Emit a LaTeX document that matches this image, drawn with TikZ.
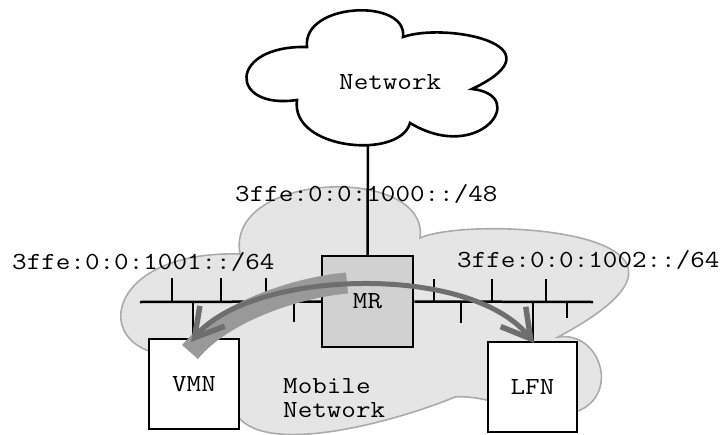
\documentclass[tikz,border=0pt]{standalone}
\usepackage{fontspec}
\setmonofont{Latin Modern Mono}[FakeStretch=1.155]
\usetikzlibrary{arrows.meta}
\begin{document}
\begin{tikzpicture}[x=1pt,y=-1pt,
  txt/.style={font=\ttfamily\fontsize{24.5}{29}\selectfont, inner sep=0pt},
  lbl/.style={txt, anchor=base west},
  hostbox/.style={txt, draw, line width=2.5pt, fill=white, minimum width=90pt, minimum height=90pt},
  wire/.style={line width=2.5pt},
  netcloud/.style={draw, line width=2.6pt, fill=white},
  mncloud/.style={draw=black!33, line width=1.6pt, fill=black!10},
  band/.style={draw=black!40, line width=21pt, line cap=butt},
  barb/.tip={Straight Barb[length=28pt,width=32pt,line width=5.5pt]},
  arcline/.style={draw=black!57, line width=5pt, barb-barb}]
\useasboundingbox (0,0) rectangle (728,434);

% mobile network cloud (background)
\path[mncloud] (175,355) .. controls (90,355) and (100,250) .. (240,254)
  .. controls (225,170) and (430,165) .. (420,238)
  .. controls (470,215) and (760,230) .. (558,337)
  .. controls (605,330) and (625,410) .. (560,415)
  -- (495,402) .. controls (480,398) and (465,396) .. (455,397)
  .. controls (400,420) and (260,460) .. (235,412) -- cycle;

% uplink from the mobile router to the network
\coordinate (netbot) at (368,120);
\node[hostbox, fill=black!18, minimum width=91pt, minimum height=91pt] (MR) at (367.5,301.5) {MR};
\draw[wire] (netbot) -- (MR.north);

% access network cloud
\path[netcloud] (297,100) .. controls (228,110) and (228,45) .. (307,47)
  .. controls (302,2) and (408,-2) .. (403,37)
  .. controls (445,22) and (565,45) .. (472,89)
  .. controls (530,95) and (480,165) .. (410,123)
  .. controls (400,160) and (290,150) .. (297,100) -- cycle;
\node[lbl] (nettxt) at (339,89) {Network};

% hosts
\node[hostbox] (VMN) at (194,384) {VMN};
\node[hostbox, minimum width=89pt] (LFN) at (532.5,387) {LFN};

% left link
\coordinate (busL) at (140,302);
\draw[wire] (busL) -- (MR.west);
\foreach \x in {172,221,266} \draw[wire] (\x,302) -- (\x,278);
\foreach \x in {242,294} \draw[wire] (\x,302) -- (\x,322);
\coordinate (tapL) at (193,302);
\draw[wire] (tapL) -- (tapL |- VMN.north);

% right link
\coordinate (busR) at (593,302);
\draw[wire] (MR.east) -- (busR);
\foreach \x in {434,492,546} \draw[wire] (\x,302) -- (\x,279);
\draw[wire] (461,302) -- (461,323);
\draw[wire] (567,302) -- (567,318);
\coordinate (tapR) at (533,302);
\draw[wire] (tapR) -- (tapR |- LFN.north);

% prefixes
\node[lbl] (pfxup) at (235,201) {3ffe:0:0:1000::/48};
\node[lbl] (pfxL) at (12,269) {3ffe:0:0:1001::/64};
\node[lbl] (pfxR) at (457,267) {3ffe:0:0:1002::/64};

% traffic
\coordinate (bandA) at (347,283);
\coordinate (bandB) at (190,352);
\coordinate (tipL) at (191,342);
\coordinate (tipR) at (534,343);
\draw[band] (bandA) .. controls (300,287) and (225,310) .. (bandB);
\draw[arcline] (tipL) .. controls (250,270) and (470,262) .. (tipR);

% mobile network caption
\node[lbl] (mob1) at (283,393) {Mobile};
\node[lbl] (mob2) at (283,417) {Network};
\end{tikzpicture}
\end{document}
